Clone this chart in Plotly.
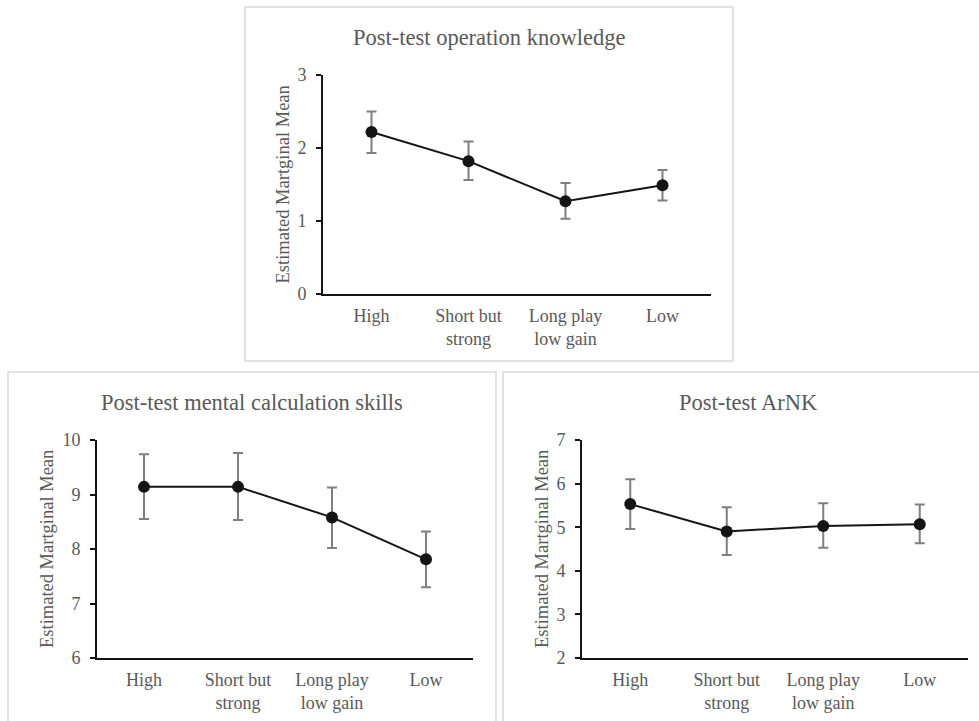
import plotly.graph_objects as go

W, H = 979, 721

categories = ["High", "Short but<br>strong", "Long play<br>low gain", "Low"]

# Panel 1: Post-test operation knowledge
op_title = "Post-test operation knowledge"
op_mean = [2.22, 1.82, 1.27, 1.49]
op_upper = [2.50, 2.09, 1.52, 1.70]
op_lower = [1.93, 1.56, 1.03, 1.28]
op_ticks = [0, 1, 2, 3]

# Panel 2: Post-test mental calculation skills
mc_title = "Post-test mental calculation skills"
mc_mean = [9.14, 9.14, 8.58, 7.81]
mc_upper = [9.74, 9.76, 9.13, 8.32]
mc_lower = [8.55, 8.53, 8.02, 7.30]
mc_ticks = [6, 7, 8, 9, 10]

# Panel 3: Post-test ArNK
ar_title = "Post-test ArNK"
ar_mean = [5.53, 4.90, 5.03, 5.07]
ar_upper = [6.10, 5.46, 5.55, 5.52]
ar_lower = [4.96, 4.36, 4.53, 4.63]
ar_ticks = [2, 3, 4, 5, 6, 7]

ytitle = "Estimated Martginal Mean"

FONT = "Liberation Serif, Times New Roman, serif"
TXT = "#595959"
LINE = "#141414"
ERR = "#7f7f7f"
BORDER = "#d9d9d9"


def px(x):
    return x / W


def py(y):
    return 1 - y / H


panels = [
    ("", op_title, op_mean, op_upper, op_lower, op_ticks, (323, 711, 75, 294), (245, 733, 7, 361), 282, 38),
    ("2", mc_title, mc_mean, mc_upper, mc_lower, mc_ticks, (97, 473, 440, 658), (8, 496, 372, 740), 47, 402),
    ("3", ar_title, ar_mean, ar_upper, ar_lower, ar_ticks, (582, 968, 440, 658), (503, 993, 372, 740), 542, 402),
]

fig = go.Figure()
shapes = []
annotations = []
layout_axes = {}

for name, title, mean, upper, lower, ticks, pbox, fbox, ytx, tty in panels:
    xa = "x" + name
    ya = "y" + name
    plus = [u - m for u, m in zip(upper, mean)]
    minus = [m - l for m, l in zip(mean, lower)]
    fig.add_trace(go.Scatter(
        x=categories, y=mean, xaxis=xa, yaxis=ya, mode="markers",
        marker=dict(size=1, color="rgba(0,0,0,0)"),
        error_y=dict(type="data", symmetric=False, array=plus, arrayminus=minus,
                     color=ERR, thickness=2, width=5),
        showlegend=False, hoverinfo="skip",
    ))
    fig.add_trace(go.Scatter(
        x=categories, y=mean, xaxis=xa, yaxis=ya, mode="lines+markers",
        line=dict(color=LINE, width=2),
        marker=dict(size=12, color=LINE),
        showlegend=False,
    ))
    x0, x1, y0, y1 = pbox
    layout_axes["xaxis" + name] = dict(
        domain=[px(x0), px(x1)], anchor=ya, type="category",
        range=[-0.5, 3.5], showgrid=False, zeroline=False, automargin=False,
        showline=True, linecolor=LINE, linewidth=2, ticks="",
        tickfont=dict(family=FONT, size=18, color=TXT),
        ticklabelstandoff=4, fixedrange=True,
    )
    layout_axes["yaxis" + name] = dict(
        domain=[py(y1), py(y0)], anchor=xa, automargin=False,
        range=[ticks[0], ticks[-1]], tickvals=ticks, showgrid=False, zeroline=False,
        showline=True, linecolor=LINE, linewidth=2, ticks="outside", ticklen=5,
        tickcolor=LINE, tickwidth=1.5,
        tickfont=dict(family=FONT, size=18, color=TXT),
        ticklabelstandoff=6, fixedrange=True,
    )
    fx0, fx1, fy0, fy1 = fbox
    shapes.append(dict(type="rect", xref="paper", yref="paper",
                       x0=px(fx0), x1=px(fx1), y0=py(fy1), y1=py(fy0),
                       line=dict(color=BORDER, width=1.5), layer="below"))
    annotations.append(dict(text=title, xref="paper", yref="paper",
                            x=px((fx0 + fx1) / 2), y=py(tty), showarrow=False,
                            xanchor="center", yanchor="middle",
                            font=dict(family=FONT, size=22.5, color=TXT)))
    annotations.append(dict(text=ytitle, xref="paper", yref="paper",
                            x=px(ytx), y=py((y0 + y1) / 2), showarrow=False,
                            textangle=-90, xanchor="center", yanchor="middle",
                            font=dict(family=FONT, size=18.5, color=TXT)))

fig.update_layout(
    template="none",
    width=W, height=H, margin=dict(l=0, r=0, t=0, b=0, autoexpand=False),
    paper_bgcolor="white", plot_bgcolor="white",
    shapes=shapes, annotations=annotations, showlegend=False,
    **layout_axes,
)

fig.write_html("out.html", config={"displayModeBar": False},
               post_script="document.body.style.margin='0px';")
